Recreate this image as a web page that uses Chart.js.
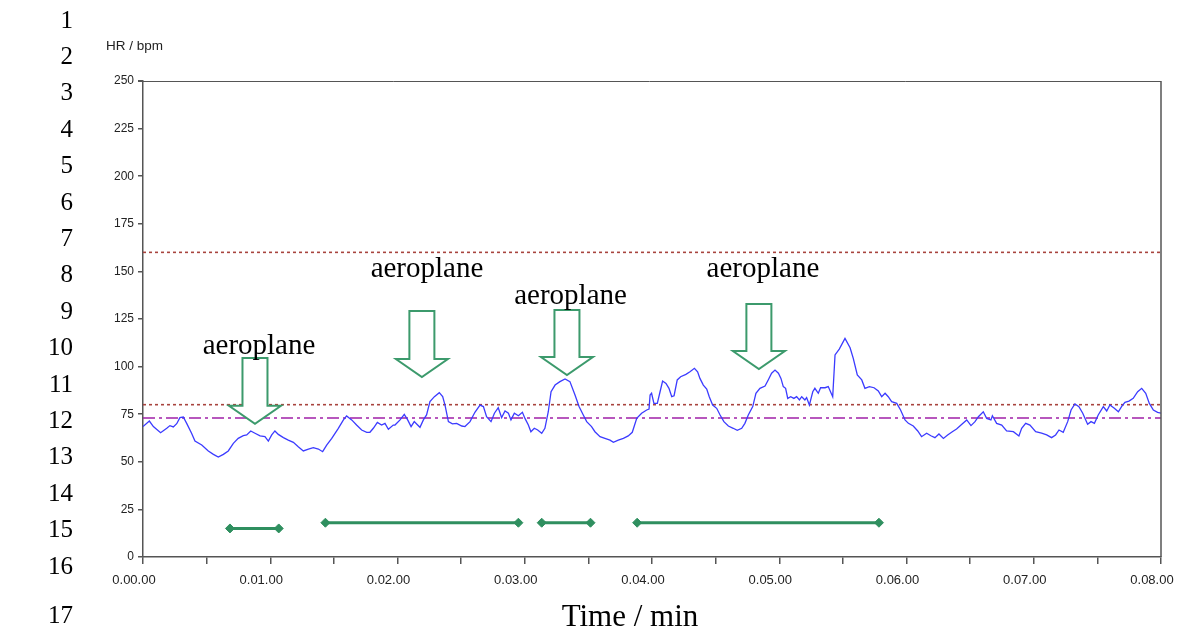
<!DOCTYPE html>
<html><head><meta charset="utf-8">
<script src="https://cdn.jsdelivr.net/npm/chart.js@4.4.1/dist/chart.umd.min.js"></script>
<style>html,body{margin:0;padding:0;background:#fff;} #wrap{width:1186px;height:634px;}</style>
</head><body><div id="wrap"><canvas id="c" width="1186" height="634"></canvas></div>
<script>
// ---- data (time in seconds, heart rate in bpm) ----
const hrTimes = [
0,3.0,4.9,8.3,11.2,12.7,14.3,15.9,17.4,19.0,20.6,22.9,24.5,27.7,30.8,33.2,35.5,37.9,40.2,42.6,
44.9,47.3,48.9,50.8,52.8,55.2,57.5,59.1,60.7,62.2,63.8,66.2,68.5,70.9,73.2,75.6,78.0,80.3,82.7,84.7,
86.6,89.0,92.1,94.5,96.0,98.4,100.7,103.1,105.5,107.0,108.6,110.5,112.5,114.1,115.7,118.0,
118.8,121.2,123.2,124.8,126.4,127.9,129.5,130.6,132.2,133.7,135.3,137.4,139.7,141.3,142.4,144.0,145.9,147.9,150.3,151.8,
154.2,156.5,158.9,160.5,162.0,164.1,165.7,167.5,169.1,170.7,172.3,173.5,175.1,177.0,178.9,180.1,181.7,182.9,184.5,186.1,
188.0,189.5,191.1,192.4,194.3,196.6,199.0,201.3,203.7,205.6,207.6,209.2,211.5,213.1,215.5,217.8,220.2,221.8,224.1,226.5,
228.8,230.7,232.8,235.1,237.5,238.6,
239.1,239.8,240.9,242.5,243.8,245.0,246.6,248.0,249.3,250.4,251.9,253.5,256.0,257.9,260.0,261.5,262.6,264.2,265.8,267.0,
268.6,270.5,272.1,273.9,276.0,278.3,280.2,282.3,283.8,285.4,287.5,289.0,290.9,293.3,294.8,296.4,298.0,299.6,300.8,301.9,
303.0,304.0,305.4,306.9,308.2,309.5,310.6,312.1,312.9,314.2,315.8,316.8,318.4,319.5,321.6,323.1,325.2,326.3,328.3,331.0,
333.4,334.9,336.8,338.9,340.4,342.5,344.7,346.7,348.3,349.9,351.4,353.0,355.4,357.2,
359.3,360.9,363.2,365.3,367.1,369.5,371.5,373.4,375.3,377.4,379.4,381.6,383.6,385.7,388.4,390.4,392.3,393.9,396.2,397.8,
399.8,400.5,402.5,404.9,407.2,410.4,413.0,414.3,416.2,418.2,420.9,423.7,426.1,428.4,430.3,431.9,433.9,436.0,437.6,439.4,
441.3,443.1,445.4,447.0,448.6,450.4,452.8,454.4,455.9,458.0,459.9,461.4,463.0,464.9,466.9,469.0,470.9,472.8,474.5,476.4,
478.4,480.0];
const hrValues = [
68.5,71.4,68.5,65.3,67.6,69.0,68.3,70.0,73.2,73.5,70.2,65.0,60.9,58.8,55.7,53.9,52.5,53.9,55.7,59.7,
62.3,63.7,64.1,66.2,65.0,63.6,63.2,60.9,64.1,66.2,64.4,62.7,61.4,60.2,57.9,55.7,56.7,57.4,56.7,55.3,
58.8,62.3,67.6,72.0,74.1,72.0,69.3,66.7,65.5,65.5,67.6,70.7,69.3,70.2,67.1,69.3,
69.3,72.0,74.9,72.0,68.5,71.1,69.3,68.1,72.0,74.6,81.6,84.2,86.3,84.2,79.8,71.1,69.9,70.2,68.8,68.5,
71.1,76.0,79.8,79.0,73.7,71.1,75.5,78.4,73.2,76.7,75.5,72.0,75.5,74.2,76.0,72.8,69.3,65.8,67.6,66.7,
65.0,67.6,76.3,86.8,90.3,92.1,93.5,92.1,85.1,79.0,74.6,71.1,68.5,65.8,63.2,62.3,61.4,60.2,61.4,62.3,
63.6,65.5,72.8,75.5,77.2,77.7,
85.1,86.0,80.7,80.7,86.8,92.4,91.2,88.6,84.2,84.7,93.0,94.7,95.9,97.3,99.1,97.3,93.8,90.3,88.2,84.2,
79.8,78.1,74.6,71.1,68.8,67.6,66.5,67.6,70.2,74.6,79.0,86.0,88.6,89.8,93.0,96.5,98.2,96.5,93.8,89.5,
88.6,83.3,84.2,83.3,84.2,82.5,84.2,82.5,83.7,79.8,86.8,88.6,86.0,88.9,88.9,89.5,84.2,106.1,109.2,114.8,
109.9,104.3,95.6,93.0,88.6,89.5,88.9,87.2,84.2,86.0,84.2,81.6,80.7,77.2,
72.0,70.2,68.8,66.2,63.2,65.0,63.7,62.7,64.6,62.3,64.1,65.8,67.2,69.3,72.0,69.0,71.1,73.7,76.3,72.8,
72.0,74.2,70.2,69.3,66.2,65.8,63.6,67.6,70.2,69.3,65.8,65.0,64.1,62.7,64.1,66.7,65.5,71.1,77.2,80.4,
79.0,75.5,69.7,71.1,70.2,74.6,79.0,76.7,79.8,78.1,76.3,79.0,81.2,81.9,83.3,86.8,88.6,86.0,80.7,77.2,
76.0,75.5];
const xTickLabels = ['0.00.00','0.01.00','0.02.00','0.03.00','0.04.00','0.05.00','0.06.00','0.07.00','0.08.00'];
const upperLimit = 160;
const lowerLimit = 80;
const meanLevel = 73;
const intervalStarts = [41, 86, 188, 233];
const intervalEnds = [64, 177, 211, 347];
const intervalLevels = [15, 18, 18, 18];
const annotationLabels = ['aeroplane','aeroplane','aeroplane','aeroplane'];
const arrowTimes = [52.8, 131.5, 199.9, 290.4];
const arrowTipValues = [70.0, 94.5, 95.6, 98.7];
const arrowTopValues = [104.5, 129.2, 129.7, 132.9];
const labelTimes = [54.7, 133.9, 201.6, 292.3];
const labelValues = [106.6, 147.1, 132.9, 147.1];
const lineNumbers = ['1','2','3','4','5','6','7','8','9','10','11','12','13','14','15','16','17'];
const yAxisTitle = 'HR / bpm';
const xAxisTitle = 'Time / min';

// ---- build datasets ----
const hrData = hrTimes.map((t, i) => ({x: t, y: hrValues[i]}));
const intervalData = [];
intervalStarts.forEach((s, i) => {
  intervalData.push({x: s, y: intervalLevels[i]}, {x: intervalEnds[i], y: intervalLevels[i]}, {x: (intervalEnds[i] + (intervalStarts[i+1] ?? intervalEnds[i])) / 2, y: null});
});
const levelLine = v => [{x: 0, y: v}, {x: 480, y: v}];

const SERIF = '"Liberation Serif", "Times New Roman", serif';
const SANS = '"Liberation Sans", Arial, sans-serif';
const LABEL_PAD = '     '; // trailing spaces: labels sit slightly left of their ticks, as in the original

const decor = {
  id: 'decor',
  afterDraw(chart) {
    const {ctx, chartArea: a, scales: {x, y}} = chart;
    ctx.save();
    // frame (top + right)
    ctx.strokeStyle = '#555';
    ctx.lineWidth = 1;
    ctx.beginPath();
    ctx.moveTo(a.left - 5, a.top + 0.5); ctx.lineTo(a.right, a.top + 0.5);
    ctx.stroke();
    ctx.lineWidth = 1.5;
    ctx.beginPath();
    ctx.moveTo(a.right, a.top); ctx.lineTo(a.right, a.bottom);
    ctx.stroke();
    // arrows
    ctx.strokeStyle = '#3c9a6c';
    ctx.fillStyle = '#ffffff';
    ctx.lineWidth = 2;
    ctx.lineJoin = 'miter';
    arrowTimes.forEach((t, i) => {
      const cx = x.getPixelForValue(t);
      const tip = y.getPixelForValue(arrowTipValues[i]);
      const top = y.getPixelForValue(arrowTopValues[i]);
      const head = tip - 18;
      ctx.beginPath();
      ctx.moveTo(cx - 12.5, top);
      ctx.lineTo(cx + 12.5, top);
      ctx.lineTo(cx + 12.5, head);
      ctx.lineTo(cx + 26, head);
      ctx.lineTo(cx, tip);
      ctx.lineTo(cx - 26, head);
      ctx.lineTo(cx - 12.5, head);
      ctx.closePath();
      ctx.fill();
      ctx.stroke();
    });
    // annotation labels
    ctx.fillStyle = '#000';
    ctx.font = '29px ' + SERIF;
    ctx.textAlign = 'center';
    ctx.textBaseline = 'alphabetic';
    annotationLabels.forEach((s, i) => {
      ctx.fillText(s, x.getPixelForValue(labelTimes[i]), y.getPixelForValue(labelValues[i]));
    });
    // axis titles
    ctx.font = '31px ' + SERIF;
    ctx.fillText(xAxisTitle, 630, 626);
    ctx.font = '13.5px ' + SANS;
    ctx.textAlign = 'left';
    ctx.textBaseline = 'middle';
    ctx.fillStyle = '#222';
    ctx.fillText(yAxisTitle, 106, 46);
    // line numbers
    ctx.fillStyle = '#000';
    ctx.font = '25px ' + SERIF;
    ctx.textAlign = 'right';
    ctx.textBaseline = 'middle';
    lineNumbers.forEach((s, i) => {
      const yy = i < 16 ? 21 + i * 36.4 : 616;
      ctx.fillText(s, 73, yy);
    });
    ctx.restore();
  }
};

new Chart(document.getElementById('c'), {
  type: 'line',
  data: {
    datasets: [
      {data: hrData, borderColor: '#3b3bff', borderWidth: 1.3, pointRadius: 0, tension: 0, order: 1},
      {data: levelLine(upperLimit), borderColor: '#a8443e', borderWidth: 1.6, borderDash: [3, 3], pointRadius: 0, order: 2},
      {data: levelLine(lowerLimit), borderColor: '#a8443e', borderWidth: 1.6, borderDash: [3, 3], pointRadius: 0, order: 2},
      {data: levelLine(meanLevel), borderColor: '#a020a8', borderWidth: 1.6, borderDash: [12, 4, 3, 4], pointRadius: 0, order: 2},
      {data: intervalData, borderColor: '#2f8f5f', backgroundColor: '#2f8f5f', borderWidth: 3, spanGaps: false,
       pointStyle: 'rectRot', pointRadius: 4.5, pointBorderWidth: 1, order: 0}
    ]
  },
  options: {
    responsive: false,
    animation: false,
    devicePixelRatio: 1,
    layout: {padding: {left: 0, top: 81, right: 25, bottom: 0}},
    plugins: {legend: {display: false}, tooltip: {enabled: false}},
    scales: {
      x: {
        type: 'linear', min: 0, max: 480,
        afterFit: s => { s.height = 77; s.paddingLeft = 0; s.paddingRight = 0; },
        ticks: {stepSize: 30, autoSkip: false, maxRotation: 0, padding: 9, color: '#222',
                font: {family: SANS, size: 13},
                callback: v => (v % 60 === 0 ? xTickLabels[v / 60] + LABEL_PAD : '')},
        grid: {drawOnChartArea: false, drawTicks: true, tickLength: 7, color: '#555', lineWidth: 1.5},
        border: {color: '#555', width: 1.5}
      },
      y: {
        min: 0, max: 250,
        afterFit: s => { s.width = 143; s.paddingTop = 0; s.paddingBottom = 0; },
        ticks: {stepSize: 25, padding: 4, color: '#222', font: {family: SANS, size: 12}},
        grid: {drawOnChartArea: false, drawTicks: true, tickLength: 5, color: '#555', lineWidth: 1.5},
        border: {color: '#555', width: 1.5}
      }
    }
  },
  plugins: [decor]
});
</script></body></html>
